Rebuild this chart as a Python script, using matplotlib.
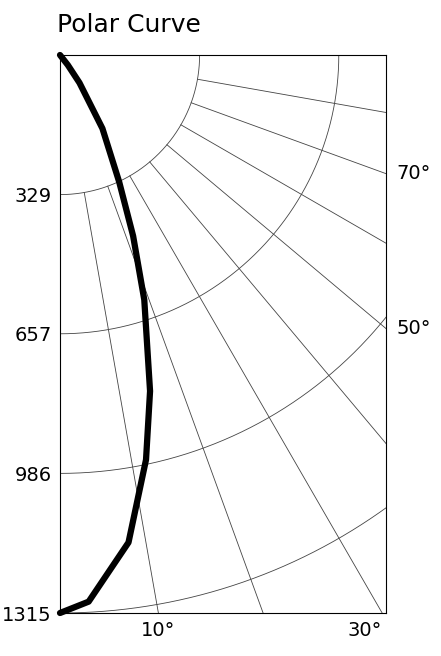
import numpy as np
import matplotlib.pyplot as plt

# ── Data ──────────────────────────────────────────────────
angles = [0, 3, 8, 12, 15, 19, 22, 25, 30, 35, 38, 40]          # deg from nadir
intensity = [1315, 1290, 1160, 975, 820, 610, 460, 330, 200, 80, 30, 0]
rings = [329, 657, 986, 1315]
ray_angles = list(range(10, 91, 10))
right_labels = [50, 70]
bottom_labels = [10, 30]

RMAX = 1315
XMAX = RMAX * 326 / 558

plt.rcParams['font.family'] = ['Liberation Sans Narrow', 'DejaVu Sans']

fig = plt.figure(figsize=(4.41, 6.56), dpi=100)
ax = fig.add_axes([60 / 441, 43 / 656, 326 / 441, 558 / 656])
ax.set_xlim(0, XMAX)
ax.set_ylim(-RMAX, 0)

grid_kw = dict(color="#444444", linewidth=0.6, zorder=1)

# rings
t = np.linspace(0, np.pi / 2, 400)
for r in rings:
    ax.plot(r * np.sin(t), -r * np.cos(t), **grid_kw)

# rays starting at the first ring
far = 3 * RMAX
for a in ray_angles:
    th = np.radians(a)
    ax.plot([rings[0] * np.sin(th), far * np.sin(th)],
            [-rings[0] * np.cos(th), -far * np.cos(th)], **grid_kw)

# curve
th = np.radians(angles)
r = np.array(intensity)
ax.plot(r * np.sin(th), -r * np.cos(th), color="black", linewidth=4.5,
        solid_capstyle="round", zorder=3, clip_on=False)

for s in ax.spines.values():
    s.set_linewidth(0.8)

ax.set_xticks([])
ax.set_yticks([-v for v in rings])
ax.set_yticklabels([str(v) for v in rings], fontsize=14)
ax.tick_params(axis="y", length=0, pad=6)

# angle labels
for a in bottom_labels:
    x = RMAX * np.tan(np.radians(a))
    ax.text(x, -RMAX - 20, f"{a}°", ha="right" if a == 30 else "center",
            va="top", fontsize=14)
for a in right_labels:
    y = -XMAX / np.tan(np.radians(a))
    ax.text(XMAX + 25, y, f"{a}°", ha="left", va="center", fontsize=14)

fig.text(57 / 441, 1 - 25 / 656, "Polar Curve", ha="left", va="center",
         fontsize=18)

fig.savefig("out.png", dpi=100)
